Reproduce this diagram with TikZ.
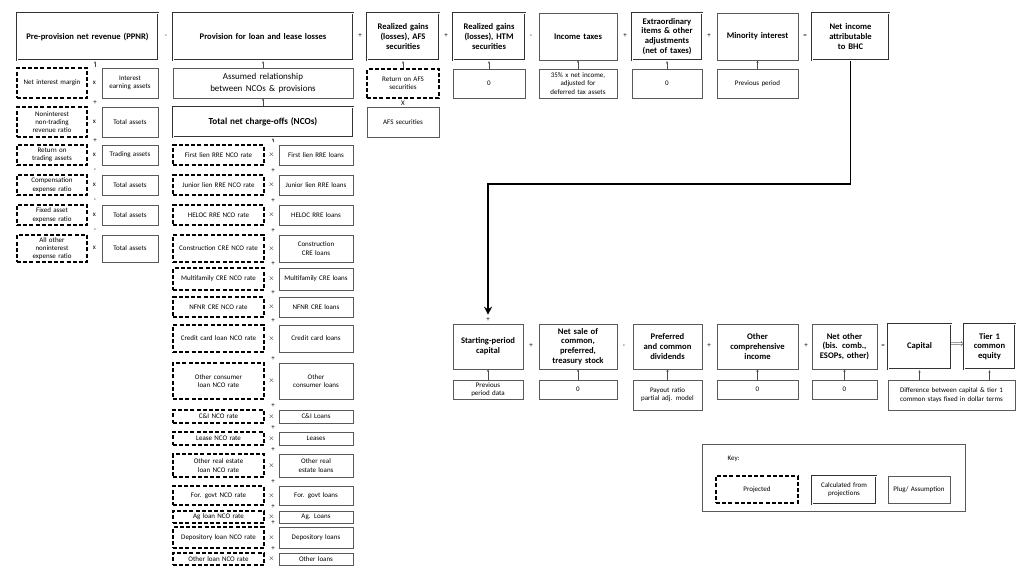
\documentclass[tikz,border=0pt]{standalone}
\usepackage{fontspec}
\setmainfont{Carlito}
\usetikzlibrary{arrows.meta}
\hyphenpenalty=10000 \exhyphenpenalty=10000
\tikzset{
 calcbox/.style={draw=black!80,line width=2.3pt,postaction={draw=white,line width=0.9pt}},
 proj/.style={draw=black,line width=1.1pt,dash pattern=on 4pt off 2.2pt},
 plug/.style={draw=black!65,line width=0.6pt},
 tb/.style={font=\fontsize{8.6}{9.8}\selectfont\bfseries},
 sm/.style={font=\fontsize{7}{8.3}\selectfont},
 sgn/.style={font=\fontsize{7}{7}\selectfont,inner sep=0pt},
 arr/.style={->,>={Stealth[length=2.5pt,width=2.2pt]},black!70,line width=0.4pt},
}
\newcommand\bx[7]{\pgfmathsetmacro\bxw{#5-#3}\pgfmathsetmacro\bxh{#6-#4}\pgfmathsetmacro\bxt{#5-#3-10}%
\node[#1,minimum width=\bxw pt,minimum height=\bxh pt,text width=\bxt pt,align=center,inner sep=0pt] (#2) at ({(#3+#5)/2},{(#4+#6)/2}) {#7};}
\newcommand\sg[4]{\node[sgn] (#1) at (#2,#3) {#4};}
\newcommand\up[2]{\draw[arr] (#1.north) -- (#2.south);}
\begin{document}
\begin{tikzpicture}[x=1pt,y=-1pt]
\useasboundingbox[fill=white] (0,0) rectangle (1024,576);
% top row
\bx{calcbox,tb}{ppnr}{17}{13}{158}{60}{Pre-provision net revenue (PPNR)}
\sg{s1}{166}{36}{-}
\bx{calcbox,tb}{prov}{173}{13}{353}{60}{Provision for loan and lease losses}
\sg{s2}{360}{36}{+}
\bx{calcbox,tb}{afs}{367}{13}{439}{60}{Realized gains (losses), AFS securities}
\sg{s3}{446}{36}{+}
\bx{calcbox,tb}{htm}{453}{13}{525}{60}{Realized gains (losses), HTM securities}
\sg{s4}{531}{36}{-}
\bx{plug,tb}{tax}{539}{13}{617}{60}{Income taxes}
\sg{s5}{625}{36}{+}
\bx{calcbox,tb}{extra}{632}{13}{702}{60}{Extraordinary items \& other adjustments (net of taxes)}
\sg{s6}{709}{36}{+}
\bx{plug,tb}{mino}{717}{13}{798}{60}{Minority interest}
\sg{s7}{805}{36}{=}
\bx{calcbox,tb}{ni}{812}{13}{889}{60}{Net income attributable to BHC}
% under top row
\bx{proj,sm}{rafs}{367}{69}{439}{98}{Return on AFS securities}
\sg{sx}{403}{103}{X}
\bx{plug,sm}{afss}{367}{107}{439}{137}{AFS securities}
\bx{plug,sm}{htm0}{453}{69}{525}{98}{0}
\bx{plug,sm}{tax0}{539}{69}{617}{98}{35\% x net income, adjusted for deferred tax assets}
\bx{plug,sm}{ext0}{632}{69}{702}{98}{0}
\bx{plug,sm}{min0}{717}{69}{798}{98}{Previous period}
\up{rafs}{afs}\up{htm0}{htm}\up{tax0}{tax}\up{ext0}{extra}\up{min0}{mino}
% left column
\bx{proj,sm}{l1a}{17}{68}{87}{98}{Net interest margin}
\bx{plug,sm}{l1b}{102}{68}{158}{98}{Interest earning assets}
\bx{proj,sm}{l2a}{17}{107}{87}{137}{Noninterest non-trading revenue ratio}
\bx{plug,sm}{l2b}{102}{107}{158}{137}{Total assets}
\bx{proj,sm}{l3a}{17}{145}{87}{165}{Return on trading assets}
\bx{plug,sm}{l3b}{102}{145}{158}{165}{Trading assets}
\bx{proj,sm}{l4a}{17}{175}{87}{195}{Compensation expense ratio}
\bx{plug,sm}{l4b}{102}{175}{158}{195}{Total assets}
\bx{proj,sm}{l5a}{17}{205}{87}{225}{Fixed asset expense ratio}
\bx{plug,sm}{l5b}{102}{205}{158}{225}{Total assets}
\bx{proj,sm}{l6a}{17}{235}{87}{262}{All other noninterest expense ratio}
\bx{plug,sm}{l6b}{102}{235}{158}{262}{Total assets}
\foreach \r/\y in {1/83,2/122,3/155,4/185,5/215,6/248}{\node[sgn] (lx\r) at (94.5,\y) {x};}
\coordinate (lp) at (95,67);
\draw[arr] (lp) -- (lp |- ppnr.south);
\sg{lsa}{95}{103}{+}\sg{lsb}{95}{141}{+}\sg{lsc}{95}{170}{-}\sg{lsd}{95}{200}{-}\sg{lse}{95}{230}{-}
% middle column
\bx{plug}{assum}{173}{68}{353}{98}{\fontsize{9}{10.5}\selectfont Assumed relationship between NCOs \& provisions}
\bx{calcbox,tb}{nco}{173}{107}{353}{137}{\fontsize{9.2}{10}\selectfont Total net charge-offs (NCOs)}
\up{assum}{prov}\up{nco}{assum}
\newcommand\nr[6]{\bx{proj,sm}{#1a}{173}{#2}{264}{#3}{#4}\bx{plug,sm}{#1b}{279}{#2}{353}{#3}{#5}%
\node[sgn] (#1x) at (271.5,{(#2+#3)/2}) {$\times$};%
\ifx#6n\else\node[sgn] (#1s) at (273,{#2-4}) {+};\fi}
\nr{m1}{145}{165}{First lien RRE NCO rate}{First lien RRE loans}{n}
\coordinate (mp) at (273,142);
\draw[arr] (mp) -- (mp |- nco.south);
\nr{m2}{175}{195}{Junior lien RRE NCO rate}{Junior lien RRE loans}{p}
\nr{m3}{205}{225}{HELOC RRE NCO rate}{HELOC RRE loans}{p}
\nr{m4}{235}{262}{Construction CRE NCO rate}{Construction CRE loans}{p}
\nr{m5}{268}{290}{Multifamily CRE NCO rate}{Multifamily CRE loans}{p}
\nr{m6}{297}{317}{NFNR CRE NCO rate}{NFNR CRE loans}{p}
\nr{m7}{325}{352}{Credit card loan NCO rate}{Credit card loans}{p}
\nr{m8}{363}{399}{Other consumer loan NCO rate}{Other consumer loans}{p}
\nr{m9}{410}{423}{C\&I NCO rate}{C\&I Loans}{p}
\nr{m10}{432}{445}{Lease NCO rate}{Leases}{p}
\nr{m11}{454}{477}{Other real estate loan NCO rate}{Other real estate loans}{p}
\nr{m12}{486}{505}{For. govt NCO rate}{For. govt loans}{p}
\nr{m13}{511}{523}{Ag loan NCO rate}{Ag. Loans}{p}
\nr{m14}{527}{548}{Depository loan NCO rate}{Depository loans}{p}
\nr{m15}{553}{565}{Other loan NCO rate}{Other loans}{p}
% bottom row
\bx{plug,tb}{start}{453}{324}{523}{369}{Starting-period capital}
\sg{b0}{488}{320}{+}
\sg{b1}{531}{346}{+}
\bx{plug,tb}{nsale}{539}{324}{617}{369}{Net sale of common, preferred, treasury stock}
\sg{b2}{624}{346}{-}
\bx{plug,tb}{pref}{633}{324}{702}{369}{Preferred and common dividends}
\sg{b3}{709}{346}{+}
\bx{plug,tb}{oci}{717}{324}{798}{369}{Other comprehensive income}
\sg{b4}{806}{346}{+}
\bx{plug,tb}{nother}{812}{324}{877}{369}{Net other (bis. comb., ESOPs, other)}
\sg{b5}{883}{346}{=}
\bx{calcbox,tb}{cap}{888}{324}{951}{369}{Capital}
\node[sgn,font=\fontsize{9}{9}\selectfont] (b6) at (957.5,345) {$\Longrightarrow$};
\bx{calcbox,tb}{tier}{964}{324}{1015}{369}{Tier 1 common equity}
\bx{plug,sm}{startb}{453}{380}{523}{399}{Previous period data}
\bx{plug,sm}{nsaleb}{539}{380}{617}{399}{0}
\bx{plug,sm}{prefb}{633}{380}{702}{410}{Payout ratio partial adj. model}
\bx{plug,sm}{ocib}{717}{380}{798}{399}{0}
\bx{plug,sm}{notherb}{812}{380}{877}{399}{0}
\bx{plug,sm}{diff}{888}{380}{1015}{410}{Difference between capital \& tier 1 common stays fixed in dollar terms}
\up{startb}{start}\up{nsaleb}{nsale}\up{prefb}{pref}\up{ocib}{oci}\up{notherb}{nother}
\draw[arr] (diff.north -| cap.south) -- (cap.south);
\draw[arr] (diff.north -| tier.south) -- (tier.south);
% big arrow
\draw[line width=1.6pt,-{Stealth[length=8pt,width=8pt]},shorten >=9pt] (ni.south) -- ++(0,123) -| (start.north);
% key
\bx{plug}{key}{702}{444}{965}{511}{}
\node[sm,anchor=west] (keyt) at (724,459) {Key:};
\bx{proj,sm}{k1}{716}{476}{798}{503}{Projected}
\bx{calcbox,sm}{k2}{812}{476}{876}{504}{Calculated from projections}
\bx{plug,sm}{k3}{888}{476}{950}{503}{Plug/ Assumption}
\end{tikzpicture}
\end{document}
